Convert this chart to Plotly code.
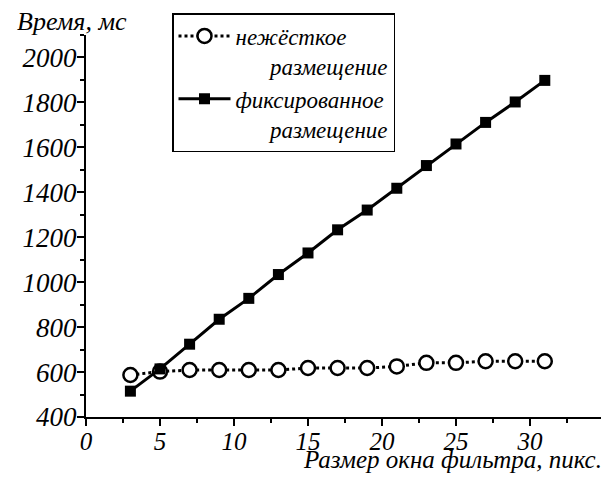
import plotly.graph_objects as go

window_size = [3, 5, 7, 9, 11, 13, 15, 17, 19, 21, 23, 25, 27, 29, 31]
soft_ms = [587, 602, 609, 609, 609, 609, 618, 618, 618, 625, 641, 641, 648, 648, 648]
fixed_ms = [515, 614, 724, 835, 928, 1034, 1130, 1233, 1321, 1418, 1519, 1615, 1711, 1802, 1898]
x_ticks = [0, 5, 10, 15, 20, 25, 30, 35]
y_ticks = [400, 600, 800, 1000, 1200, 1400, 1600, 1800, 2000]

name_soft = "нежёсткое<br>\u00a0\u00a0\u00a0\u00a0\u00a0\u00a0размещение"
name_fixed = "фиксированное<br>\u00a0\u00a0\u00a0\u00a0\u00a0\u00a0размещение"
y_title = "Время, мс"
x_title = "Размер окна фильтра, пикс."

FONT = "Liberation Serif"

# page body adds an 8px offset; the figure is sized and positioned accordingly
OFF = 8
W, H = 609 - OFF, 477 - OFF
L, T = 86 - OFF, 35 - OFF
PR, PB = 604 - OFF, 417 - OFF
R, B = W - PR, H - PB
PW, PH = PR - L, PB - T


def px_x(px):
    return (px - OFF - L) / PW


def px_y(py):
    return 1 - (py - OFF - T) / PH


def it(s):
    return "<i>" + s + "</i>"


fig = go.Figure()
fig.add_trace(go.Scatter(
    x=window_size, y=soft_ms, name=it(name_soft), mode="lines+markers",
    line=dict(color="black", width=3, dash="dot"),
    marker=dict(symbol="circle", size=14, color="white",
                line=dict(color="black", width=2.5)),
))
fig.add_trace(go.Scatter(
    x=window_size, y=fixed_ms, name=it(name_fixed), mode="lines+markers",
    line=dict(color="black", width=3),
    marker=dict(symbol="square", size=11, color="black",
                line=dict(color="black", width=0)),
))

tickfont = dict(family=FONT, size=27, color="black", style="italic")
xtickfont = dict(family=FONT, size=25, color="black", style="italic")

fig.update_layout(
    width=W, height=H,
    margin=dict(l=L, r=R, t=T, b=B, autoexpand=False),
    paper_bgcolor="white", plot_bgcolor="white",
    font=dict(family=FONT, color="black", style="italic"),
    showlegend=True,
    legend=dict(
        x=px_x(172), y=px_y(13), xanchor="left", yanchor="top",
        bgcolor="white", bordercolor="black", borderwidth=1.5,
        font=dict(family=FONT, size=23, color="black", style="italic"),
        valign="top", tracegroupgap=0, itemwidth=52,
    ),
    xaxis=dict(
        range=[0, 35], tickvals=x_ticks, ticktext=[it(str(v)) for v in x_ticks],
        showgrid=False, zeroline=False,
        showline=True, linecolor="black", linewidth=2, automargin=False,
        ticks="outside", ticklen=7, tickwidth=2, tickcolor="black",
        tickfont=xtickfont, ticklabelstandoff=-6,
        minor=dict(dtick=2.5, tick0=0, ticks="outside", ticklen=4, tickwidth=2, tickcolor="black"),
    ),
    yaxis=dict(
        range=[400, 2100], tickvals=y_ticks, ticktext=[it(str(v)) for v in y_ticks],
        showgrid=False, zeroline=False,
        showline=True, linecolor="black", linewidth=2, automargin=False,
        ticks="outside", ticklen=7, tickwidth=2, tickcolor="black",
        tickfont=tickfont, ticklabelstandoff=-5,
        minor=dict(dtick=100, tick0=400, ticks="outside", ticklen=4, tickwidth=2, tickcolor="black"),
    ),
    annotations=[
        dict(text=it(y_title), xref="paper", yref="paper", x=px_x(15), y=px_y(22),
             xanchor="left", yanchor="middle", showarrow=False,
             font=dict(family=FONT, size=26, color="black", style="italic")),
        dict(text=it(x_title), xref="paper", yref="paper", x=px_x(604), y=px_y(460),
             xanchor="right", yanchor="middle", showarrow=False,
             font=dict(family=FONT, size=25, color="black", style="italic")),
    ],
)

fig.write_html("out.html")
